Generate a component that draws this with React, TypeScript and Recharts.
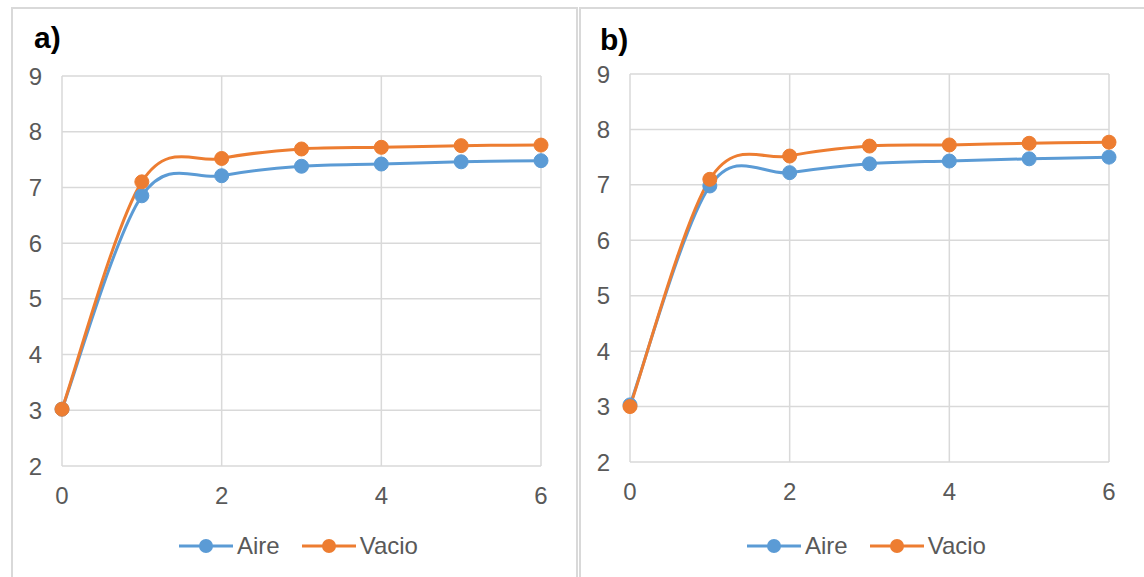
import React from "react";
import { LineChart, Line, XAxis, YAxis, CartesianGrid, Legend } from "recharts";

const X_VALUES = [0, 1, 2, 3, 4, 5, 6];
const AIRE_A = [3.02, 6.85, 7.21, 7.38, 7.42, 7.46, 7.48];
const VACIO_A = [3.02, 7.1, 7.52, 7.69, 7.72, 7.75, 7.76];
const AIRE_B = [3.03, 6.98, 7.22, 7.38, 7.43, 7.47, 7.5];
const VACIO_B = [3.0, 7.1, 7.52, 7.7, 7.72, 7.75, 7.77];
const X_TICKS = [0, 2, 4, 6];
const Y_TICKS = [2, 3, 4, 5, 6, 7, 8, 9];

const BLUE = "#5B9BD5";
const ORANGE = "#ED7D31";
const GRID = "#d9d9d9";
const TEXT = "#595959";
const FONT = "'Liberation Sans', Arial, sans-serif";

// Excel style smoothed line (Catmull-Rom through every point)
const excelSmooth = (context: any) => {
  let pts: number[][] = [];
  return {
    areaStart() {},
    areaEnd() {},
    lineStart() {
      pts = [];
    },
    point(x: number, y: number) {
      pts.push([+x, +y]);
    },
    lineEnd() {
      const n = pts.length;
      if (!n) return;
      context.moveTo(pts[0][0], pts[0][1]);
      for (let i = 0; i < n - 1; i++) {
        const p0 = pts[Math.max(i - 1, 0)];
        const p1 = pts[i];
        const p2 = pts[i + 1];
        const p3 = pts[Math.min(i + 2, n - 1)];
        context.bezierCurveTo(
          p1[0] + (p2[0] - p0[0]) / 6,
          p1[1] + (p2[1] - p0[1]) / 6,
          p2[0] - (p3[0] - p1[0]) / 6,
          p2[1] - (p3[1] - p1[1]) / 6,
          p2[0],
          p2[1]
        );
      }
    },
  };
};

const XTick = ({ x, y, payload }: any) => (
  <text x={x} y={y} dy="0.71em" textAnchor="middle" fill={TEXT} fontSize={24} fontFamily={FONT}>
    {payload.value}
  </text>
);

const YTick = ({ x, y, payload }: any) => (
  <text x={x} y={y} dy="0.36em" textAnchor="end" fill={TEXT} fontSize={24} fontFamily={FONT}>
    {payload.value}
  </text>
);

const LegendContent = ({ payload }: any) => (
  <div
    style={{
      display: "flex",
      justifyContent: "center",
      alignItems: "center",
      height: 30,
      gap: 22,
      fontFamily: FONT,
    }}
  >
    {(payload || []).map((p: any) => (
      <div key={p.value} style={{ display: "flex", alignItems: "center" }}>
        <svg width={54} height={16}>
          <line x1={0} y1={8} x2={54} y2={8} stroke={p.color} strokeWidth={3} />
          <circle cx={27} cy={8} r={7} fill={p.color} />
        </svg>
        <span style={{ marginLeft: 4, fontSize: 24, color: TEXT }}>{p.value}</span>
      </div>
    ))}
  </div>
);

type PanelProps = {
  title: string;
  aire: number[];
  vacio: number[];
  chartLeft: number;
  chartWidth: number;
  plotLeft: number;
  plotRight: number;
  plotTop: number;
  plotBottom: number;
  titleTop: number;
  titleLeft: number;
};

const H = 577;

function Panel(props: PanelProps) {
  const { title, aire, vacio, chartLeft, chartWidth, plotLeft, plotRight, plotTop, plotBottom } = props;
  const rows = X_VALUES.map((x, i) => ({ x, aire: aire[i], vacio: vacio[i] }));
  const yAxisW = 40;
  const legendH = 30;
  return (
    <>
      <div
        style={{
          position: "absolute",
          left: props.titleLeft,
          top: props.titleTop,
          fontFamily: FONT,
          fontWeight: "bold",
          fontSize: 30,
          lineHeight: "30px",
          color: "#000",
        }}
      >
        {title}
      </div>
      <div style={{ position: "absolute", left: chartLeft, top: 0 }}>
        <LineChart
          width={chartWidth}
          height={H}
          data={rows}
          margin={{
            top: plotTop,
            right: chartLeft + chartWidth - plotRight,
            bottom: 0,
            left: plotLeft - chartLeft - yAxisW,
          }}
        >
          <CartesianGrid stroke={GRID} strokeWidth={1.5} horizontalValues={Y_TICKS} verticalValues={X_TICKS} />
          <XAxis
            dataKey="x"
            type="number"
            domain={[0, 6]}
            ticks={X_TICKS}
            axisLine={false}
            tickLine={false}
            tickSize={0}
            tickMargin={21}
            height={H - plotBottom - legendH}
            tick={<XTick />}
          />
          <YAxis
            type="number"
            domain={[2, 9]}
            ticks={Y_TICKS}
            axisLine={false}
            tickLine={false}
            tickSize={0}
            tickMargin={20}
            width={yAxisW}
            tick={<YTick />}
          />
          <Legend
            verticalAlign="bottom"
            content={<LegendContent />}
            wrapperStyle={{
              left: plotLeft - chartLeft - 3,
              width: plotRight - plotLeft,
              top: 531,
              bottom: "auto",
            }}
          />
          <Line
            name="Aire"
            dataKey="aire"
            type={excelSmooth as any}
            stroke={BLUE}
            strokeWidth={3}
            dot={{ r: 7, fill: BLUE, stroke: BLUE, strokeWidth: 1 }}
            activeDot={false}
            isAnimationActive={false}
          />
          <Line
            name="Vacio"
            dataKey="vacio"
            type={excelSmooth as any}
            stroke={ORANGE}
            strokeWidth={3}
            dot={{ r: 7, fill: ORANGE, stroke: ORANGE, strokeWidth: 1 }}
            activeDot={false}
            isAnimationActive={false}
          />
        </LineChart>
      </div>
    </>
  );
}

export default function App() {
  return (
    <div
      style={{
        position: "absolute",
        left: 0,
        top: 0,
        width: 1144,
        height: H,
        overflow: "hidden",
        background: "#fff",
      }}
    >
      <div
        style={{
          position: "absolute",
          left: 11,
          top: 7,
          width: 567,
          height: 620,
          border: `2px solid ${GRID}`,
          boxSizing: "border-box",
        }}
      />
      <div
        style={{
          position: "absolute",
          left: 579,
          top: 7,
          width: 620,
          height: 620,
          border: `2px solid ${GRID}`,
          boxSizing: "border-box",
        }}
      />
      <Panel
        title="a)"
        aire={AIRE_A}
        vacio={VACIO_A}
        chartLeft={0}
        chartWidth={578}
        plotLeft={62}
        plotRight={541}
        plotTop={76}
        plotBottom={466}
        titleLeft={34}
        titleTop={23}
      />
      <Panel
        title="b)"
        aire={AIRE_B}
        vacio={VACIO_B}
        chartLeft={579}
        chartWidth={565}
        plotLeft={630}
        plotRight={1109}
        plotTop={74}
        plotBottom={462}
        titleLeft={600}
        titleTop={25}
      />
    </div>
  );
}
